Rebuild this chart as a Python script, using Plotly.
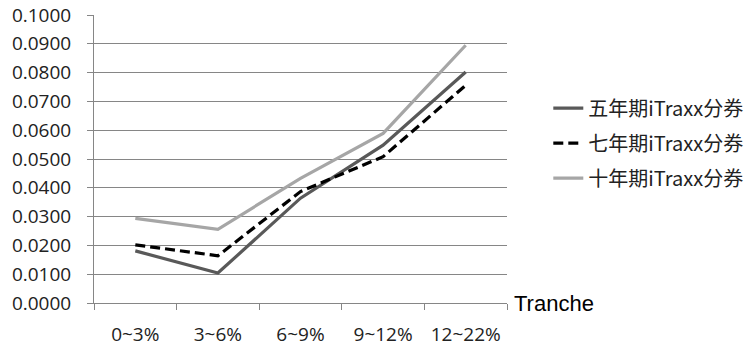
import plotly.graph_objects as go

categories = ["0~3%", "3~6%", "6~9%", "9~12%", "12~22%"]
five_year = [0.0181, 0.0104, 0.0364, 0.0548, 0.0802]
seven_year = [0.0202, 0.0164, 0.0387, 0.0508, 0.0756]
ten_year = [0.0294, 0.0256, 0.0433, 0.0589, 0.0895]
series_names = ["五年期iTraxx分券", "七年期iTraxx分券", "十年期iTraxx分券"]
y_ticks = [i / 100 for i in range(11)]
y_tick_labels = ["%.4f" % v for v in y_ticks]

fig = go.Figure()
styles = [
    dict(color="#595959", width=3.2, dash="solid"),
    dict(color="#000000", width=3.2, dash="10px,5px"),
    dict(color="#a6a6a6", width=3.2, dash="solid"),
]
for i, (name, vals) in enumerate(zip(series_names, [five_year, seven_year, ten_year])):
    fig.add_trace(go.Scatter(
        x=categories, y=vals, mode="lines", name=name,
        line=styles[i], legendgroup="g%d" % i,
    ))

fig.update_layout(
    width=748, height=348,
    margin=dict(l=94, r=241, t=15, b=45, autoexpand=False),
    plot_bgcolor="white", paper_bgcolor="white",
    font=dict(family="Open Sans", size=19, color="#222222"),
    showlegend=True,
    legend=dict(
        x=1.10, xanchor="left", y=0.555, yanchor="middle",
        traceorder="grouped", tracegroupgap=6,
        font=dict(family="Noto Sans CJK SC", size=20, color="#222222"),
        bgcolor="rgba(0,0,0,0)",
    ),
    xaxis=dict(
        type="category", tickson="boundaries", ticks="outside", ticklen=6,
        tickcolor="#868686", showline=True, linecolor="#868686", linewidth=1,
        showgrid=False, range=[-0.5, 4.5], automargin=False,
        ticklabelstandoff=14, ticklabeloverflow="allow",
        tickfont=dict(family="Open Sans", size=19),
    ),
    yaxis=dict(
        range=[0, 0.1], tickvals=y_ticks, ticktext=y_tick_labels,
        ticks="outside", ticklen=6, tickcolor="#868686",
        showline=True, linecolor="#868686", linewidth=1, automargin=False,
        showgrid=True, gridcolor="#868686", gridwidth=1, zeroline=False,
        ticklabeloverflow="allow", ticklabelstandoff=12,
        tickfont=dict(family="Open Sans", size=19),
    ),
    annotations=[dict(
        text="Tranche", xref="paper", yref="paper", x=1.013, y=0,
        xanchor="left", yanchor="middle", showarrow=False,
        font=dict(family="Liberation Sans", size=22, color="#000000"),
    )],
)

fig.write_html("out.html", config={"displayModeBar": False},
               post_script="document.body.style.margin='0';")
